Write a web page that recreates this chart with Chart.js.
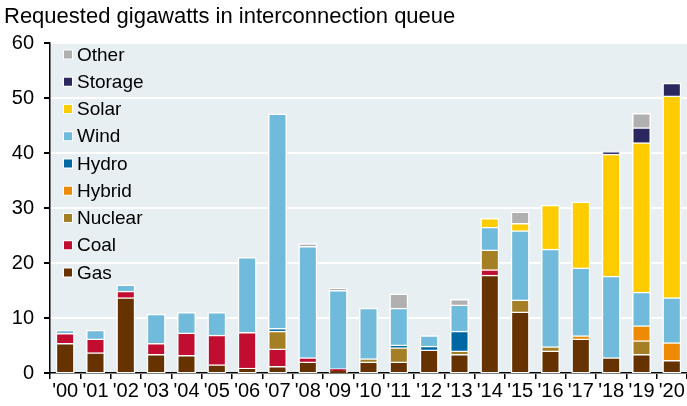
<!DOCTYPE html>
<html>
<head>
<meta charset="utf-8">
<script src="https://cdn.jsdelivr.net/npm/chart.js@4"></script>
<style>
	body { margin: 0; background: #fff; }
	#wrap { width: 687px; height: 406px; position: relative; }
</style>
</head>
<body>
<div id="wrap"><canvas id="queueChart"></canvas></div>
<script>
// Requested gigawatts by year
const years = ["'00", "'01", "'02", "'03", "'04", "'05", "'06", "'07", "'08", "'09", "'10",
	"'11", "'12", "'13", "'14", "'15", "'16", "'17", "'18", "'19", "'20"];
const gas     = [5.2, 3.5, 13.5, 3.2, 3.0, 1.3, 0.7, 1.0, 1.8, 0.2, 1.8, 1.8, 4.0, 3.2, 17.6, 10.9, 3.8, 6.0, 2.6, 3.2, 2.1];
const coal    = [1.8, 2.5, 1.2, 2.0, 4.1, 5.4, 6.5, 3.2, 0.8, 0.4, 0, 0, 0, 0, 1.0, 0, 0, 0, 0, 0, 0];
const nuclear = [0, 0, 0, 0, 0, 0, 0, 3.2, 0, 0, 0.6, 2.6, 0, 0.6, 3.6, 2.2, 0.8, 0, 0, 2.5, 0];
const hybrid  = [0, 0, 0, 0, 0, 0, 0, 0, 0, 0, 0, 0, 0, 0, 0, 0, 0, 0.6, 0, 2.7, 3.2];
const hydro   = [0, 0, 0, 0, 0, 0, 0, 0.5, 0, 0, 0, 0.5, 0.7, 3.6, 0, 0, 0, 0, 0, 0, 0];
const wind    = [0.6, 1.6, 1.1, 5.3, 3.7, 4.1, 13.6, 39.0, 20.2, 14.2, 9.2, 6.7, 1.9, 4.8, 4.1, 12.6, 17.7, 12.3, 14.8, 6.1, 8.2];
const solar   = [0, 0, 0, 0, 0, 0, 0, 0, 0, 0, 0, 0, 0, 0, 1.6, 1.3, 8.0, 12.0, 22.2, 27.2, 36.7];
const storage = [0, 0, 0, 0, 0, 0, 0, 0, 0, 0, 0, 0, 0, 0, 0, 0, 0, 0, 0.4, 2.7, 2.3];
const other   = [0, 0, 0, 0, 0, 0, 0, 0, 0.5, 0.4, 0, 2.6, 0, 1.0, 0, 2.1, 0, 0, 0, 2.6, 0];
const yTicks  = [0, 10, 20, 30, 40, 50, 60];

const FONT = "'Liberation Sans', Arial, sans-serif";

const series = [
	{ label: "Gas", data: gas, color: "#663300" },
	{ label: "Coal", data: coal, color: "#c00d30" },
	{ label: "Nuclear", data: nuclear, color: "#a47f25" },
	{ label: "Hybrid", data: hybrid, color: "#ee8a04" },
	{ label: "Hydro", data: hydro, color: "#0067a3" },
	{ label: "Wind", data: wind, color: "#70bbdc" },
	{ label: "Solar", data: solar, color: "#ffcc00" },
	{ label: "Storage", data: storage, color: "#2b2860" },
	{ label: "Other", data: other, color: "#b0b0b0" },
];

// plot background + subtitle
const backdrop = {
	id: "backdrop",
	beforeDraw(chart) {
		const { ctx, chartArea: a } = chart;
		ctx.save();
		ctx.fillStyle = "#e7eff2";
		ctx.fillRect(a.left, a.top, a.right - a.left, a.bottom - a.top);
		ctx.fillStyle = "#000";
		ctx.font = "22px " + FONT;
		ctx.textBaseline = "middle";
		ctx.fillText("Requested gigawatts in interconnection queue", 4, 17);
		ctx.restore();
	},
};

// legend stacked top-left inside the plot, last series first
const boxLegend = {
	id: "boxLegend",
	afterDraw(chart) {
		const { ctx, chartArea: a } = chart;
		ctx.save();
		ctx.font = "19px " + FONT;
		ctx.textBaseline = "middle";
		series.slice().reverse().forEach((s, i) => {
			const y = a.top + 11.5 + i * 27.25;
			ctx.fillStyle = "#fff";
			ctx.fillRect(a.left + 13, y - 5, 10, 10);
			ctx.fillStyle = s.color;
			ctx.fillRect(a.left + 14, y - 4, 8, 8);
			ctx.fillStyle = "#000";
			ctx.fillText(s.label, a.left + 27, y + 1);
		});
		ctx.restore();
	},
};

const ctx = document.getElementById("queueChart").getContext("2d");

new Chart(ctx, {
	type: "bar",
	data: {
		labels: years,
		datasets: series.map((s) => ({
			label: s.label,
			data: s.data.map((v) => (v ? v : null)),
			backgroundColor: s.color,
			borderColor: "#fff",
			borderWidth: 1.5,
			borderSkipped: false,
			inflateAmount: 1.5,
			barThickness: 16,
		})),
	},
	options: {
		responsive: true,
		maintainAspectRatio: false,
		animation: false,
		layout: { padding: { top: 43, left: 0, right: 0, bottom: 0 } },
		plugins: {
			legend: { display: false },
			tooltip: { enabled: false },
		},
		scales: {
			x: {
				stacked: true,
				afterFit(scale) { scale.height = 33; },
				grid: { drawOnChartArea: false, tickColor: "#000", tickLength: 6, lineWidth: 1.5 },
				border: { color: "#000", width: 1.5 },
				ticks: { color: "#000", font: { family: FONT, size: 20 }, padding: 0, maxRotation: 0, autoSkip: false },
			},
			y: {
				stacked: true,
				min: 0,
				max: 60,
				afterFit(scale) { scale.width = 50; },
				afterBuildTicks(scale) { scale.ticks = yTicks.map((v) => ({ value: v })); },
				grid: { color: "#fff", lineWidth: 2, tickColor: "#000", tickLength: 6 },
				border: { color: "#000", width: 1.5 },
				ticks: { color: "#000", font: { family: FONT, size: 20 }, padding: 10 },
			},
		},
	},
	plugins: [backdrop, boxLegend],
});
</script>
</body>
</html>
